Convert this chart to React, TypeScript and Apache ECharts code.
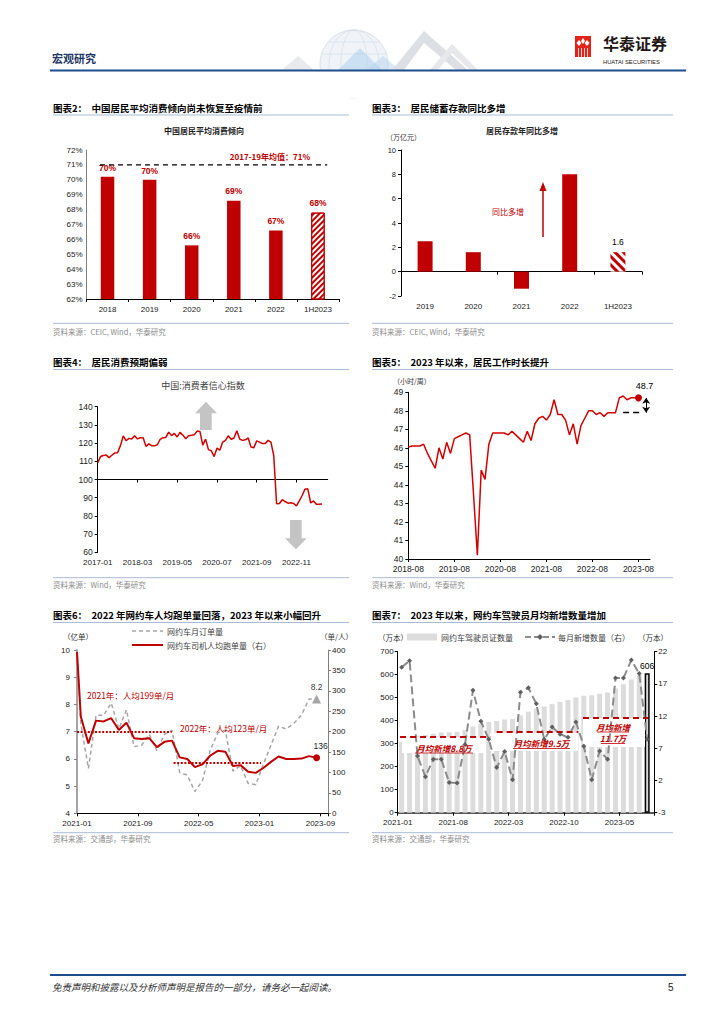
import React, { useEffect, useRef } from 'react';
import * as echarts from 'echarts';

const CJK = "'Noto Sans CJK SC', 'Noto Sans', sans-serif";
const LAT = "'Liberation Sans', Arial, 'Noto Sans CJK SC', sans-serif";
const RED = '#c00000';
const LINE_RED = '#d40000';

function monthRange(start: string, end: string): string[] {
  const [sy, sm] = start.split('-').map(Number);
  const [ey, em] = end.split('-').map(Number);
  const out: string[] = [];
  let y = sy, m = sm;
  while (y < ey || (y === ey && m <= em)) {
    out.push(`${y}-${String(m).padStart(2, '0')}`);
    m++;
    if (m > 12) { m = 1; y++; }
  }
  return out;
}
function monthLabel(y0: number, m0: number, off: number) {
  const t = y0 * 12 + (m0 - 1) + off;
  const y = Math.floor(t / 12);
  const m = (t % 12) + 1;
  return `${y}-${String(m).padStart(2, '0')}`;
}

// ---------- Chart 2: average propensity to consume ----------
const mpcYears = ['2018', '2019', '2020', '2021', '2022', '1H2023'];
const mpcValues = [70.2, 70.0, 65.6, 68.6, 66.6, 67.8];
const mpcAvg = 71;
const mpcAvgLabel = '2017-19年均值：71%';

// ---------- Chart 3: deposit increase ----------
const depYears = ['2019', '2020', '2021', '2022', '1H2023'];
const depValues = [2.5, 1.6, -1.4, 8.0, 1.6];

// ---------- Chart 4: consumer confidence ----------
const cciMonths = monthRange('2017-01', '2023-10');
const cciValues = [
  109.2, 112.6, 113.2, 113.4, 112.0, 113.3, 114.6, 114.7, 118.6, 123.9, 121.3, 122.6,
  122.3, 124.0, 122.3, 122.9, 122.9, 118.2, 119.6, 118.6, 118.5, 119.1, 122.1, 123.0,
  123.1, 126.0, 124.1, 125.3, 123.4, 125.9, 124.4, 122.4, 124.1, 124.3, 124.6, 126.6,
  126.4, 118.9, 122.2, 116.4, 115.8, 112.6, 117.2, 116.1, 120.5, 121.5, 124.0, 122.1,
  122.8, 126.8, 122.2, 121.5, 121.8, 122.8, 117.8, 117.5, 121.2, 120.5, 119.8, 119.8,
  121.5, 120.5, 113.2, 86.7, 86.8, 88.9, 87.9, 87.0, 87.2, 86.8, 85.5, 88.3,
  91.2, 94.7, 94.9, 87.1, 88.2, 86.4, 86.4, 86.5,
];

// ---------- Chart 5: weekly working hours ----------
const hoursMonths = monthRange('2018-08', '2023-11');
const hoursValues = [
  46.05, 46.1, 46.1, 46.1, 46.2, 45.7, 45.3, 44.9, 46.0, 45.4,
  46.3, 45.7, 46.5, 46.6, 46.7, 46.8, 46.7, 43.5, 40.2, 44.8,
  44.3, 46.2, 46.8, 46.8, 46.8, 46.8, 46.7, 46.9, 46.7, 46.5,
  46.3, 46.9, 46.4, 47.3, 47.6, 47.7, 47.5, 47.8, 48.6, 47.8,
  47.8, 47.5, 46.7, 47.3, 46.2, 47.2, 47.6, 48.0, 48.0, 47.8,
  47.9, 47.7, 47.9, 47.9, 47.9, 48.7, 48.8, 48.6, 48.7, 48.7,
  48.7,
];
const hoursBase = 47.9;

// ---------- Chart 6: ride-hailing orders ----------
const rideMonths = monthRange('2020-12', '2023-08');
const rideOrders = [
  10.0, 7.3, 5.65, 7.6, 7.6, 8.05, 7.1, 7.8, 6.45, 6.5, 6.9, 6.3, 6.9,
  7.05, 5.5, 5.4, 4.8, 5.2, 6.3, 6.95, 7.05, 5.55, 5.75, 5.1, 5.05,
  5.8, 6.5, 7.2, 7.1, 7.3, 7.6, 8.2, 8.2,
];
const rideTrips = [
  395, 237, 171, 227, 225, 233, 204, 222, 184, 182, 184, 162, 175,
  178, 137, 133, 113, 120, 141, 153, 151, 116, 118, 102, 99,
  111, 126, 139, 133, 133, 134, 140, 136,
];
const tripAvgYears = ['2021', '2022'];
const tripAvg = [199, 123];

// ---------- Chart 7: drivers' licences ----------
const driverMonths = monthRange('2021-01', '2023-08');
const driverLicenses = [
  308.7, 329.3, 335.1, 337.7, 343.0, 348.3, 350.0, 351.6, 359.2, 375.2, 386.4, 394.8,
  398.8, 405.3, 407.4, 423.1, 439.5, 453.4, 461.8, 472.1, 481.3, 490.0, 501.1, 508.4,
  510.5, 517.1, 522.4, 540.3, 558.2, 578.9, 597.5, 606.0,
];
const driverNew = [
  19.6, 20.6, 5.8, 2.6, 5.3, 5.3, 1.7, 1.6, 7.6, 16.0, 11.2, 8.4,
  4.0, 6.5, 2.1, 15.7, 16.4, 13.9, 8.4, 10.3, 9.2, 8.7, 11.1, 7.3,
  2.1, 6.6, 5.3, 17.9, 17.9, 20.7, 18.6, 8.4,
];
const newAvg = [8.8, 9.5, 11.7];

// ---------- helpers ----------
const lbl = (size = 8, extra: any = {}) => ({ color: '#1a1a1a', fontSize: size, fontFamily: LAT, ...extra });
const aLine = (color = '#000', width = 1, onZero = false) => ({ show: true, onZero, lineStyle: { color, width } });
const aTick = (extra: any = {}) => ({ show: true, length: 3, lineStyle: { color: '#000' }, ...extra });
const noSplit = { show: false };

function T(x: number, y: number, text: string, size: number, o: any = {}) {
  return {
    type: 'text', x, y, z: o.z ?? 10, silent: true,
    style: {
      text, fill: o.color ?? '#000', fontSize: size, fontFamily: o.family ?? CJK,
      fontWeight: o.weight ?? 'normal', fontStyle: o.fstyle ?? 'normal',
      align: o.align ?? 'left', verticalAlign: 'middle',
    },
  };
}
function L(x1: number, y1: number, x2: number, y2: number, color: string, width: number, dash?: number[], z = 10) {
  return { type: 'line', z, silent: true, shape: { x1, y1, x2, y2 }, style: { stroke: color, lineWidth: width, lineDash: dash } };
}
function P(points: number[][], fill: string, z = 0) {
  return { type: 'polygon', z, silent: true, shape: { points }, style: { fill } };
}
function R(x: number, y: number, w: number, h: number, fill: string, z = 2) {
  return { type: 'rect', z, silent: true, shape: { x, y, width: w, height: h }, style: { fill } };
}

function buildGraphics() {
  const g: any[] = [];
  // header decoration
  g.push(P([[282, 70], [298, 56], [314, 70]], '#e8eaed', 0));
  g.push({ type: 'circle', z: 0, silent: true, shape: { cx: 354, cy: 64, r: 34 }, style: { fill: 'rgba(236,241,247,0.8)', stroke: '#d3dae3', lineWidth: 0.8 } });
  g.push({ type: 'ellipse', z: 0, silent: true, shape: { cx: 354, cy: 64, rx: 13, ry: 34 }, style: { fill: 'none', stroke: '#d3dae3', lineWidth: 0.6 } });
  g.push({ type: 'ellipse', z: 0, silent: true, shape: { cx: 354, cy: 64, rx: 25, ry: 34 }, style: { fill: 'none', stroke: '#d3dae3', lineWidth: 0.6 } });
  g.push(L(328, 42, 380, 42, '#d3dae3', 0.6, undefined, 0));
  g.push(L(321.5, 54, 386.5, 54, '#d3dae3', 0.6, undefined, 0));
  g.push(P([[338, 70], [360, 48], [382, 70]], 'rgba(160,200,235,0.45)', 0));
  g.push(P([[366, 70], [383, 56], [400, 70]], 'rgba(180,210,240,0.5)', 0));
  g.push(P([[392, 70], [424, 31], [468, 70], [456, 70], [424, 43], [404, 70]], '#dcdfe3', 0));
  g.push(P([[430, 70], [452, 44], [478, 70], [470, 70], [452, 53], [438, 70]], '#e6e8eb', 0));
  g.push(R(290, 71.6, 200, 27, '#fff', 1));
  g.push(T(52, 58, '宏观研究', 11, { weight: 'bold', color: '#1f3864' }));
  g.push(L(50, 70.5, 686, 70.5, '#1f4e8c', 2));
  // logo
  g.push(R(575, 36, 16, 21, '#e2231a', 5));
  g.push(P([[579, 40], [581.5, 43], [579, 46], [576.5, 43]], '#fff', 6));
  g.push(P([[587, 40], [589.5, 43], [587, 46], [584.5, 43]], '#fff', 6));
  g.push(P([[583, 38], [585, 41], [583, 44], [581, 41]], '#fff', 6));
  [578.5, 581.5, 584.5, 587.5].forEach((x) => g.push(L(x, 48, x, 57, '#fff', 0.8, undefined, 6)));
  g.push(T(603, 42.5, '华泰证券', 16, { weight: 'bold', color: '#231815' }));
  g.push(T(603, 62, 'HUATAI SECURITIES', 5.8, { family: LAT, color: '#231815' }));

  // section titles / rules / sources
  const UL = '#a9bcd6';
  const SRC = '#8c8c8c';
  const rows = [
    { t: 107.5, u: 115, s: 323.3, st: 331, l: '图表2：  中国居民平均消费倾向尚未恢复至疫情前', r: '图表3：  居民储蓄存款同比多增', sl: '资料来源：CEIC, Wind，华泰研究', sr: '资料来源：CEIC, Wind，华泰研究' },
    { t: 362, u: 369.5, s: 577.7, st: 584.5, l: '图表4：  居民消费预期偏弱', r: '图表5：  2023 年以来，居民工作时长提升', sl: '资料来源：Wind，华泰研究', sr: '资料来源：Wind，华泰研究' },
    { t: 615, u: 622.5, s: 832.7, st: 838.5, l: '图表6：  2022 年网约车人均跑单量回落，2023 年以来小幅回升', r: '图表7：  2023 年以来，网约车驾驶员月均新增数量增加', sl: '资料来源：交通部，华泰研究', sr: '资料来源：交通部，华泰研究' },
  ];
  rows.forEach((rw) => {
    g.push(T(53, rw.t, rw.l, 9.5, { weight: 'bold' }));
    g.push(T(372, rw.t, rw.r, 9.5, { weight: 'bold' }));
    g.push(L(53, rw.u, 349, rw.u, UL, 1));
    g.push(L(372, rw.u, 673, rw.u, UL, 1));
    g.push(L(53, rw.s, 349, rw.s, UL, 1));
    g.push(L(372, rw.s, 673, rw.s, UL, 1));
    g.push(T(53, rw.st, rw.sl, 7.5, { color: SRC }));
    g.push(T(372, rw.st, rw.sr, 7.5, { color: SRC }));
  });

  // chart 2
  g.push(T(204, 130, '中国居民平均消费倾向', 8, { align: 'center', weight: 'bold', color: '#222' }));
  g.push(T(270, 156, mpcAvgLabel, 8, { align: 'center', weight: 'bold', color: RED }));
  // chart 3
  g.push(T(522, 130, '居民存款年同比多增', 8, { align: 'center', weight: 'bold', color: '#222' }));
  g.push(T(386, 137, '（万亿元）', 7, { color: '#333' }));
  g.push(L(543, 237, 543, 190, RED, 1.5));
  g.push(P([[539.5, 191], [546.5, 191], [543, 182]], RED, 10));
  g.push(T(508, 211, '同比多增', 8, { align: 'center', color: RED }));
  // chart 4
  g.push(T(203, 385, '中国:消费者信心指数', 9, { align: 'center', color: '#404040' }));
  g.push(P([[206, 401.7], [217, 413.3], [211.7, 413.3], [211.7, 430], [200, 430], [200, 413.3], [195, 413.3]], '#c4c4c4', 1));
  g.push(P([[290, 520], [301.7, 520], [301.7, 538.3], [306.7, 538.3], [296, 549.3], [285, 538.3], [290, 538.3]], '#c4c4c4', 1));
  // chart 5
  g.push(T(393, 381, '（小时/周）', 7, { color: '#333' }));
  // chart 6
  g.push(T(63, 636, '（亿单）', 7.5, { color: '#333' }));
  g.push(T(320, 636, '（单/人）', 7.5, { color: '#333' }));
  g.push(L(132, 631, 163, 631, '#a6a6a6', 1.5, [4, 3]));
  g.push(T(167, 631, '网约车月订单量', 8, { color: '#404040' }));
  g.push(L(132, 645, 163, 645, RED, 2));
  g.push(T(167, 645, '网约车司机人均跑单量（右）', 8, { color: '#404040' }));
  g.push(T(87, 695, `${tripAvgYears[0]}年：人均${tripAvg[0]}单/月`, 8.5, { color: RED }));
  g.push(T(180, 728, `${tripAvgYears[1]}年：人均${tripAvg[1]}单/月`, 8.5, { color: RED }));
  // chart 7
  g.push(T(378, 637, '（万本）', 7.5, { color: '#333' }));
  g.push(T(638, 637, '（万本）', 7.5, { color: '#333' }));
  g.push(R(407, 633.5, 30, 7, '#dcdcdc', 10));
  g.push(T(441, 637, '网约车驾驶员证数量', 8, { color: '#404040' }));
  g.push(L(525, 637, 555, 637, '#8c8c8c', 2, [6, 3]));
  g.push(P([[540, 634], [543, 637], [540, 640], [537, 637]], '#606060', 11));
  g.push(T(558, 637, '每月新增数量（右）', 8, { color: '#404040' }));
  g.push(R(402, 737, 84, 16, '#fff', 2));
  g.push(R(490, 733, 88, 18, '#fff', 2));
  g.push(R(583, 718, 62, 29, '#fff', 2));
  const a7 = { color: RED, align: 'center', weight: 'bold', fstyle: 'italic' };
  g.push(T(444, 747.5, `月均新增${newAvg[0]}万`, 8.5, a7));
  g.push(L(415, 753, 473, 753, RED, 0.8));
  g.push(T(541.5, 743, `月均新增${newAvg[1]}万`, 8.5, a7));
  g.push(L(513, 748.5, 570, 748.5, RED, 0.8));
  g.push(T(613, 726.5, '月均新增', 8.5, a7));
  g.push(L(597, 732, 629, 732, RED, 0.8));
  g.push(T(613, 738, `${newAvg[2]}万`, 8.5, a7));
  g.push(L(601, 743.5, 625, 743.5, RED, 0.8));

  // footer
  g.push(L(50, 975, 686, 975, '#1f4e8c', 2));
  g.push(T(52, 987, '免责声明和披露以及分析师声明是报告的一部分，请务必一起阅读。', 9.5, { color: '#333', fstyle: 'italic' }));
  g.push(T(668, 987, '5', 10, { family: LAT, color: '#222' }));
  return g;
}

function buildOption(): any {
  const last5 = hoursValues.length - 1;
  const last6 = rideMonths.length - 1;
  const last7 = driverMonths.length - 1;
  const ridePos = rideMonths.map((_, i) => Math.max(0, i - 0.5));
  const tripSpans = [[0, 12.45], [12.7, 24.2]];
  const newSpans = [[0.3, 11.7], [12.5, 22.8], [23.4, 31.6]];
  const isInt = (v: number) => Math.abs(v - Math.round(v)) < 1e-6;

  const hatch2 = { symbol: 'rect', symbolSize: 1, color: RED, dashArrayX: [1, 0], dashArrayY: [2, 2], rotation: -Math.PI / 4 };
  const hatch3 = { symbol: 'rect', symbolSize: 1, color: RED, dashArrayX: [1, 0], dashArrayY: [3, 3], rotation: Math.PI / 4 };
  const barLbl2 = { show: true, position: 'top', distance: 5, color: RED, fontWeight: 'bold', fontSize: 8.5, fontFamily: LAT, formatter: (p: any) => Math.round(p.value) + '%' };

  return {
    animation: false,
    backgroundColor: '#fff',
    grid: [
      { left: 86.5, top: 150, width: 252.5, height: 149, outerBoundsMode: 'none' },
      { left: 401, top: 150, width: 241, height: 146, outerBoundsMode: 'none' },
      { left: 97.7, top: 406.7, width: 230, height: 145.6, outerBoundsMode: 'none' },
      { left: 408.3, top: 392.3, width: 241.7, height: 166.7, outerBoundsMode: 'none' },
      { left: 77, top: 650, width: 251, height: 163.3, outerBoundsMode: 'none' },
      { left: 397.7, top: 651.7, width: 256.6, height: 161, outerBoundsMode: 'none' },
    ],
    xAxis: [
      { gridIndex: 0, type: 'category', position: 'bottom', data: mpcYears, axisLine: aLine('#000'), axisTick: aTick(), axisLabel: lbl(8, { margin: 6 }) },
      { gridIndex: 0, type: 'value', min: -0.5, max: 5.5, show: false },
      { gridIndex: 1, type: 'category', position: 'bottom', data: depYears, axisLine: aLine('#000', 1, true), axisTick: aTick(), axisLabel: { show: false } },
      { gridIndex: 1, type: 'category', position: 'bottom', data: depYears, axisLine: { show: false, onZero: false }, axisTick: { show: false }, axisLabel: lbl(8, { margin: 6 }) },
      { gridIndex: 2, type: 'category', position: 'bottom', data: cciMonths, boundaryGap: false, axisLine: { show: false, onZero: false }, axisTick: { show: false }, axisLabel: lbl(8, { interval: 13, margin: 6 }) },
      { gridIndex: 2, type: 'category', position: 'bottom', offset: -72.8, data: cciMonths, boundaryGap: false, axisLine: aLine('#000'), axisTick: aTick({ interval: 13 }), axisLabel: { show: false } },
      { gridIndex: 3, type: 'category', position: 'bottom', data: hoursMonths, boundaryGap: false, axisLine: aLine('#000'), axisTick: aTick({ interval: 11 }), axisLabel: lbl(8.5, { interval: 11, margin: 6 }) },
      { gridIndex: 4, type: 'value', position: 'bottom', min: 0, max: 33, interval: 8, splitLine: noSplit, axisLine: aLine('#000'), axisTick: aTick(), axisLabel: lbl(8, { margin: 6, formatter: (v: number) => (isInt(v) && Math.round(v) % 8 === 0 && v <= 32 ? monthLabel(2021, 1, Math.round(v)) : '') }) },
      { gridIndex: 5, type: 'value', position: 'bottom', min: 0, max: 32.4, interval: 7, splitLine: noSplit, axisLine: aLine('#595959', 2), axisTick: aTick(), axisLabel: lbl(8, { margin: 6, formatter: (v: number) => (isInt(v) && Math.round(v) % 7 === 0 && v <= 28 ? driverMonths[Math.round(v)] : '') }) },
    ],
    yAxis: [
      { gridIndex: 0, type: 'value', min: 62, max: 72, interval: 1, splitLine: noSplit, axisLine: aLine('#7f7f7f'), axisTick: { show: false }, axisLabel: lbl(8, { margin: 4, formatter: '{value}%' }) },
      { gridIndex: 1, type: 'value', min: -2, max: 10, interval: 2, splitLine: noSplit, axisLine: aLine('#000'), axisTick: aTick(), axisLabel: lbl(7.5, { margin: 5 }) },
      { gridIndex: 2, type: 'value', min: 60, max: 140, interval: 10, splitLine: noSplit, axisLine: aLine('#000'), axisTick: aTick(), axisLabel: lbl(8.5, { margin: 5 }) },
      { gridIndex: 3, type: 'value', min: 40, max: 49, interval: 1, splitLine: noSplit, axisLine: aLine('#000'), axisTick: aTick(), axisLabel: lbl(8.5, { margin: 5 }) },
      { gridIndex: 4, type: 'value', position: 'left', min: 4, max: 10, interval: 1, splitLine: noSplit, axisLine: aLine('#a6a6a6', 2), axisTick: aTick({ lineStyle: { color: '#808080' } }), axisLabel: lbl(8, { margin: 7 }) },
      { gridIndex: 4, type: 'value', position: 'right', min: 0, max: 400, interval: 50, splitLine: noSplit, axisLine: aLine('#808080'), axisTick: aTick({ lineStyle: { color: '#808080' } }), axisLabel: lbl(8, { margin: 4 }) },
      { gridIndex: 5, type: 'value', position: 'left', min: 0, max: 700, interval: 100, splitLine: noSplit, axisLine: aLine('#000'), axisTick: aTick(), axisLabel: lbl(8, { margin: 4 }) },
      { gridIndex: 5, type: 'value', position: 'right', min: -3, max: 22, interval: 5, splitLine: noSplit, axisLine: aLine('#000'), axisTick: aTick(), axisLabel: lbl(8, { margin: 4 }) },
    ],
    series: [
      // chart 2
      { type: 'bar', xAxisIndex: 0, yAxisIndex: 0, barWidth: 13.5, z: 2, data: mpcValues.map((v, i) => (i === mpcValues.length - 1 ? '-' : v)), itemStyle: { color: RED }, label: barLbl2 },
      { type: 'bar', xAxisIndex: 0, yAxisIndex: 0, barWidth: 13.5, barGap: '-100%', z: 2, data: mpcValues.map((v, i) => (i === mpcValues.length - 1 ? v : '-')), itemStyle: { color: '#fff', borderColor: RED, borderWidth: 1, decal: hatch2 }, label: barLbl2 },
      { type: 'line', xAxisIndex: 1, yAxisIndex: 0, z: 3, silent: true, symbol: 'none', data: [[-0.18, mpcAvg], [5.22, mpcAvg]], lineStyle: { color: '#000', width: 1.3, type: [5, 4] } },
      // chart 3
      { type: 'bar', xAxisIndex: 2, yAxisIndex: 1, barWidth: 15, z: 2, data: depValues.map((v, i) => (i === depValues.length - 1 ? '-' : v)), itemStyle: { color: RED } },
      { type: 'bar', xAxisIndex: 2, yAxisIndex: 1, barWidth: 15, barGap: '-100%', z: 2, data: depValues.map((v, i) => (i === depValues.length - 1 ? v : '-')), itemStyle: { color: '#fff', decal: hatch3 }, label: { show: true, position: 'top', distance: 6, color: '#000', fontSize: 8.5, fontFamily: LAT, formatter: (p: any) => Number(p.value).toFixed(1) } },
      // chart 4
      { type: 'line', xAxisIndex: 4, yAxisIndex: 2, z: 3, symbol: 'none', data: cciValues, lineStyle: { color: LINE_RED, width: 1.5 } },
      // chart 5
      {
        type: 'line', xAxisIndex: 6, yAxisIndex: 3, z: 3, symbol: 'none',
        data: hoursValues.map((v, i) => (i === last5 ? { value: v, symbol: 'circle', symbolSize: 7, itemStyle: { color: RED }, label: { show: true, position: 'top', distance: 4, offset: [6, 0], color: '#000', fontSize: 9, fontFamily: LAT, formatter: (p: any) => Number(p.value).toFixed(1) } } : v)),
        lineStyle: { color: LINE_RED, width: 1.5 },
        markLine: {
          silent: true, symbol: 'none', symbolSize: 6, label: { show: false },
          lineStyle: { color: '#000', width: 1.3, type: [6, 4] },
          data: [
            [{ coord: [hoursMonths[56], hoursBase] }, { coord: [hoursMonths[61], hoursBase] }],
            [{ coord: [hoursMonths[62], hoursBase], symbol: 'arrow', lineStyle: { type: 'solid', width: 1, color: '#000' } }, { coord: [hoursMonths[62], hoursValues[last5]], symbol: 'arrow' }],
          ],
        },
      },
      // chart 6
      {
        type: 'line', xAxisIndex: 7, yAxisIndex: 4, z: 3, symbol: 'none',
        data: rideOrders.map((v, i) => (i === last6 ? { value: [ridePos[i], v], symbol: 'triangle', symbolSize: 9, itemStyle: { color: '#a6a6a6' }, label: { show: true, position: 'top', distance: 3, color: '#404040', fontSize: 8.5, fontFamily: LAT, formatter: (p: any) => Number(p.value[1]).toFixed(1) } } : [ridePos[i], v])),
        lineStyle: { color: '#a6a6a6', width: 1.5, type: [4, 3] },
      },
      {
        type: 'line', xAxisIndex: 7, yAxisIndex: 5, z: 4, symbol: 'none',
        data: rideTrips.map((v, i) => (i === last6 ? { value: [ridePos[i], v], symbol: 'circle', symbolSize: 7, itemStyle: { color: RED }, label: { show: true, position: 'top', distance: 4, offset: [4, 0], color: '#222', fontSize: 8.5, fontFamily: LAT, formatter: (p: any) => String(p.value[1]) } } : [ridePos[i], v])),
        lineStyle: { color: RED, width: 2 },
        markLine: {
          silent: true, symbol: 'none', label: { show: false },
          lineStyle: { color: RED, width: 2, type: [2, 1.6] },
          data: tripAvg.map((v, i) => [{ coord: [tripSpans[i][0], v] }, { coord: [tripSpans[i][1], v] }]),
        },
      },
      // chart 7
      {
        type: 'bar', xAxisIndex: 8, yAxisIndex: 6, z: 1, barWidth: 5,
        data: driverLicenses.map((v, i) => (i === last7 ? { value: [i + 0.5, v], itemStyle: { color: '#d9d9d9', borderColor: '#000', borderWidth: 1.5 }, label: { show: true, position: 'top', distance: 3, color: '#000', fontSize: 8.5, fontFamily: LAT, formatter: (p: any) => String(Math.round(p.value[1])) } } : [i + 0.5, v])),
        itemStyle: { color: '#dcdcdc' },
      },
      {
        type: 'line', xAxisIndex: 8, yAxisIndex: 7, z: 3, symbol: 'diamond', symbolSize: 5, showSymbol: true,
        data: driverNew.map((v, i) => [i + 0.5, v]),
        itemStyle: { color: '#606060' },
        lineStyle: { color: '#8c8c8c', width: 2, type: [8, 4] },
        markLine: {
          silent: true, symbol: 'none', label: { show: false },
          lineStyle: { color: RED, width: 2, type: [6, 4] },
          data: newAvg.map((v, i) => [{ coord: [newSpans[i][0], v] }, { coord: [newSpans[i][1], v] }]),
        },
      },
    ],
    graphic: { elements: buildGraphics() },
  };
}

export default function App() {
  const ref = useRef<HTMLDivElement>(null);
  useEffect(() => {
    if (!ref.current) return;
    const chart = echarts.init(ref.current, undefined, { renderer: 'svg' });
    chart.setOption(buildOption());
    return () => chart.dispose();
  }, []);
  return <div ref={ref} style={{ position: 'absolute', left: 0, top: 0, width: 724, height: 1024, background: '#fff' }} />;
}
